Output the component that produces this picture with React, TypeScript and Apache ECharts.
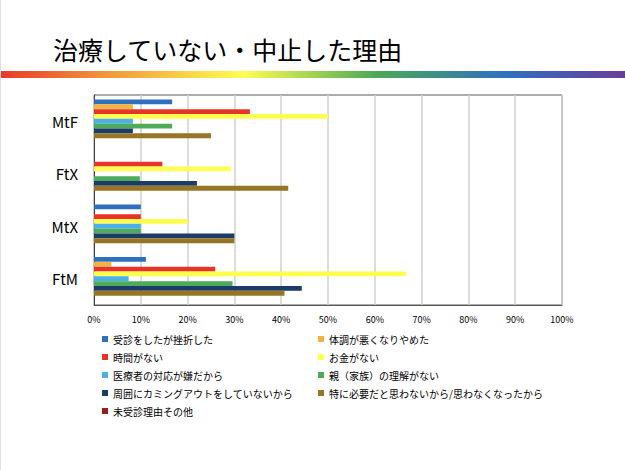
import React, { useEffect, useRef } from "react";
import * as echarts from "echarts";

const titleText = "治療していない・中止した理由";
const categories = ["MtF", "FtX", "MtX", "FtM"];
const seriesNames = [
  "受診をしたが挫折した",
  "体調が悪くなりやめた",
  "時間がない",
  "お金がない",
  "医療者の対応が嫌だから",
  "親（家族）の理解がない",
  "周囲にカミングアウトをしていないから",
  "特に必要だと思わないから/思わなくなったから",
  "未受診理由その他",
];
// values in %, per category [MtF, FtX, MtX, FtM]
const v0 = [16.7, 0, 10, 11.1];
const v1 = [8.3, 0, 0, 3.7];
const v2 = [33.3, 14.6, 10, 25.9];
const v3 = [50, 29.3, 20, 66.7];
const v4 = [8.3, 0, 10, 7.4];
const v5 = [16.7, 9.8, 10, 29.6];
const v6 = [8.3, 22.0, 30, 44.4];
const v7 = [25, 41.5, 30, 40.7];
const v8 = [0, 0, 0, 0];
const seriesValues = [v0, v1, v2, v3, v4, v5, v6, v7, v8];
const colors = [
  "#2f6fbf",
  "#f0b440",
  "#e83428",
  "#ffff4d",
  "#4bb0e8",
  "#4dab5a",
  "#1b3c68",
  "#977526",
  "#9b1c1c",
];

const FONT = "'Noto Sans CJK JP', 'Noto Sans', sans-serif";

export default function App() {
  const ref = useRef<HTMLDivElement>(null);
  useEffect(() => {
    if (!ref.current) return;
    const chart = echarts.init(ref.current, null, { renderer: "svg" });
    const legendText = { fontSize: 10, color: "#000", fontFamily: FONT, lineHeight: 14 };
    chart.setOption({
      animation: false,
      backgroundColor: "#fff",
      title: {
        text: titleText,
        left: 48,
        top: 31,
        textStyle: { fontSize: 25, fontWeight: "normal", color: "#000", fontFamily: FONT },
      },
      graphic: [
        {
          type: "rect",
          shape: { x: 0, y: 71, width: 625, height: 7 },
          style: {
            fill: new echarts.graphic.LinearGradient(0, 0, 1, 0, [
              { offset: 0, color: "#e8392a" },
              { offset: 0.18, color: "#f39a3c" },
              { offset: 0.39, color: "#ffff50" },
              { offset: 0.6, color: "#4caa55" },
              { offset: 0.81, color: "#2e6fc0" },
              { offset: 1, color: "#6a3d9a" },
            ]),
          },
        },
        {
          type: "line",
          shape: { x1: 0.5, y1: 0, x2: 0.5, y2: 470 },
          style: { stroke: "#e0e0e0", lineWidth: 1 },
        },
      ],
      legend: [
        {
          orient: "vertical",
          left: 97,
          top: 327,
          itemWidth: 6,
          itemHeight: 6,
          itemGap: 4,
          icon: "rect",
          textStyle: legendText,
          data: [seriesNames[0], seriesNames[2], seriesNames[4], seriesNames[6], seriesNames[8]],
        },
        {
          orient: "vertical",
          left: 313,
          top: 327,
          itemWidth: 6,
          itemHeight: 6,
          itemGap: 4,
          icon: "rect",
          textStyle: legendText,
          data: [seriesNames[1], seriesNames[3], seriesNames[5], seriesNames[7]],
        },
      ],
      grid: {
        left: 94,
        right: 63,
        top: 95,
        bottom: 165,
        show: true,
        borderColor: "#595959",
        borderWidth: 1,
      },
      xAxis: {
        type: "value",
        min: 0,
        max: 100,
        interval: 10,
        axisLine: { show: true, lineStyle: { color: "#595959" } },
        axisTick: { show: false },
        axisLabel: {
          formatter: "{value}%",
          fontSize: 9,
          color: "#000",
          fontFamily: FONT,
          margin: 10,
        },
        splitLine: { lineStyle: { color: "#d0d0d0", width: 1.5 } },
      },
      yAxis: {
        type: "category",
        inverse: true,
        data: categories,
        axisLine: { show: true, lineStyle: { color: "#404040" } },
        axisTick: { show: false },
        axisLabel: { fontSize: 15, color: "#000", fontFamily: FONT, margin: 16 },
      },
      series: seriesNames.map((name, i) => ({
        name,
        type: "bar",
        data: seriesValues[i],
        itemStyle: { color: colors[i] },
        barGap: "0%",
        barCategoryGap: "17%",
      })),
    });
    return () => chart.dispose();
  }, []);
  return (
    <div
      ref={ref}
      style={{ position: "fixed", left: 0, top: 0, width: 625, height: 470 }}
    />
  );
}
